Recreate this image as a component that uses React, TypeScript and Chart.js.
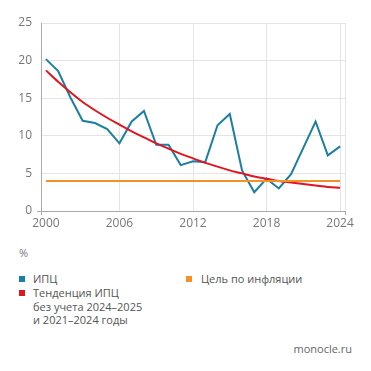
import React, { useEffect, useRef } from "react";
import { Chart, registerables } from "chart.js";

Chart.register(...registerables);

const years = [2000, 2001, 2002, 2003, 2004, 2005, 2006, 2007, 2008, 2009, 2010, 2011, 2012, 2013, 2014, 2015, 2016, 2017, 2018, 2019, 2020, 2021, 2022, 2023, 2024];
const cpi = [20.2, 18.6, 15.1, 12.0, 11.7, 10.9, 9.0, 11.9, 13.3, 8.8, 8.8, 6.1, 6.6, 6.5, 11.4, 12.9, 5.4, 2.5, 4.3, 3.0, 4.9, 8.4, 11.9, 7.4, 8.6];
const trend = [18.7, 17.2, 15.8, 14.5, 13.4, 12.4, 11.5, 10.6, 9.8, 9.0, 8.3, 7.6, 7.0, 6.4, 5.9, 5.4, 5.0, 4.6, 4.3, 4.0, 3.8, 3.6, 3.4, 3.2, 3.1];
const target = [4, 4, 4, 4, 4, 4, 4, 4, 4, 4, 4, 4, 4, 4, 4, 4, 4, 4, 4, 4, 4, 4, 4, 4, 4];
const xTickLabels = [2000, 2006, 2012, 2018, 2024];
const yTicks = [0, 5, 10, 15, 20, 25];

const BLUE = "#1b7fa3";
const RED = "#e2141f";
const ORANGE = "#f39325";
const FONT = "'Open Sans', sans-serif";

export default function App() {
  const ref = useRef<HTMLCanvasElement | null>(null);

  useEffect(() => {
    if (!ref.current) return;
    const xMin = years[0] - 0.4;
    const xMax = years[years.length - 1] + 0.4;
    const chart = new Chart(ref.current, {
      type: "line",
      data: {
        datasets: [
          {
            label: "Цель по инфляции",
            data: years.map((y, i) => ({ x: y, y: target[i] })),
            borderColor: ORANGE,
            borderWidth: 2,
            pointRadius: 0,
          },
          {
            label: "Тенденция ИПЦ",
            data: years.map((y, i) => ({ x: y, y: trend[i] })),
            borderColor: RED,
            borderWidth: 2,
            pointRadius: 0,
            cubicInterpolationMode: "monotone",
          },
          {
            label: "ИПЦ",
            data: years.map((y, i) => ({ x: y, y: cpi[i] })),
            borderColor: BLUE,
            borderWidth: 2,
            pointRadius: 0,
            tension: 0,
          },
        ],
      },
      options: {
        animation: false,
        responsive: false,
        maintainAspectRatio: false,
        layout: { padding: { left: 0, right: 26, top: 23, bottom: 0 } },
        plugins: { legend: { display: false }, tooltip: { enabled: false } },
        scales: {
          x: {
            type: "linear",
            min: xMin,
            max: xMax,
            afterBuildTicks: (scale: any) => {
              scale.ticks = [xMin, ...xTickLabels, xMax].map((v) => ({ value: v }));
            },
            afterFit: (scale: any) => {
              scale.height = 31;
            },
            ticks: {
              autoSkip: false,
              maxRotation: 0,
              color: "#777",
              font: { family: FONT, size: 12 },
              padding: 1,
              callback: (v: any) => (xTickLabels.includes(v) ? String(v) : ""),
            },
            grid: {
              color: (ctx: any) => {
                const v = ctx.tick && ctx.tick.value;
                if (v === xTickLabels[0]) return "rgba(0,0,0,0)";
                return "#e4e4e4";
              },
              tickColor: (ctx: any) => {
                const v = ctx.tick && ctx.tick.value;
                return v === xMin || v === xMax ? "#aaa" : "rgba(0,0,0,0)";
              },
              tickLength: 4,
            },
            border: { color: "#aaa", width: 1 },
          },
          y: {
            min: 0,
            max: 25,
            afterBuildTicks: (scale: any) => {
              scale.ticks = yTicks.map((v) => ({ value: v }));
            },
            afterFit: (scale: any) => {
              scale.width = 41;
            },
            ticks: {
              color: "#777",
              font: { family: FONT, size: 12 },
              padding: 5,
            },
            grid: {
              color: "#e4e4e4",
              tickLength: 4,
              tickColor: (ctx: any) => (ctx.tick && ctx.tick.value === 0 ? "#aaa" : "rgba(0,0,0,0)"),
            },
            border: { color: "#aaa", width: 1 },
          },
        },
      },
    });
    return () => chart.destroy();
  }, []);

  const text: React.CSSProperties = {
    position: "absolute",
    fontFamily: FONT,
    fontSize: 11,
    color: "#555",
    lineHeight: "13.5px",
    whiteSpace: "nowrap",
  };
  const sq = (color: string, left: number, top: number): React.CSSProperties => ({
    position: "absolute",
    left,
    top,
    width: 6,
    height: 6,
    background: color,
  });

  return (
    <div style={{ position: "fixed", left: 0, top: 0, width: 371, height: 371, background: "#fff" }}>
      <canvas ref={ref} width={371} height={242} style={{ position: "absolute", left: 0, top: 0 }} />
      <div style={{ ...text, left: 19, top: 246, color: "#777" }}>%</div>
      <div style={sq(BLUE, 19, 276)} />
      <div style={{ ...text, left: 33, top: 272 }}>ИПЦ</div>
      <div style={sq(RED, 19, 290)} />
      <div style={{ ...text, left: 33, top: 286 }}>
        Тенденция ИПЦ
        <br />
        без учета 2024–2025
        <br />
        и 2021–2024 годы
      </div>
      <div style={sq(ORANGE, 186, 276)} />
      <div style={{ ...text, left: 201, top: 272 }}>Цель по инфляции</div>
      <div style={{ ...text, right: 19, top: 342, color: "#666" }}>monocle.ru</div>
    </div>
  );
}
